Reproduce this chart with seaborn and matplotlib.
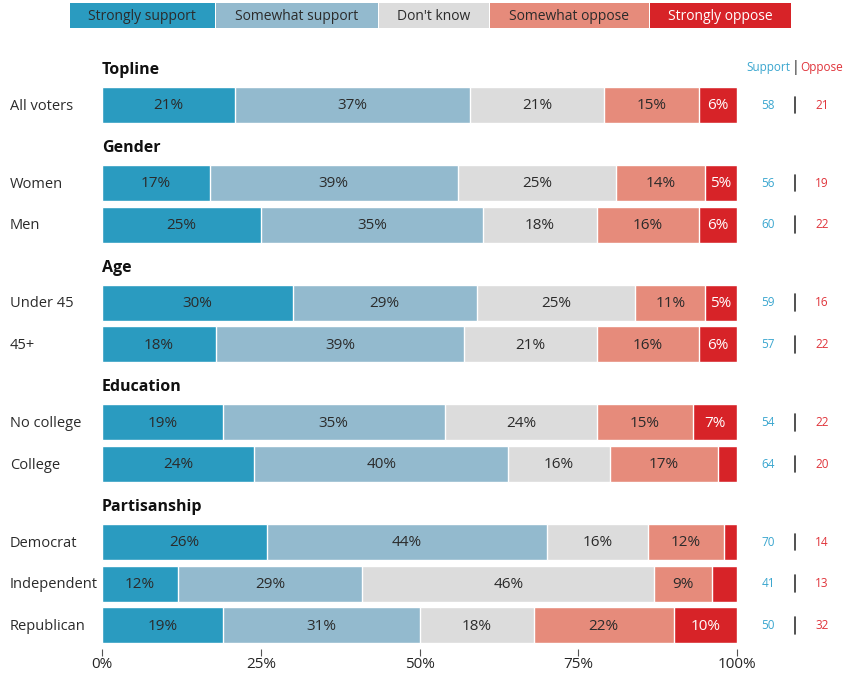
import numpy as np
import pandas as pd
import seaborn as sns
import matplotlib.pyplot as plt
from matplotlib.patches import Rectangle
from matplotlib.transforms import blended_transform_factory

# data
groups = ["Topline", "Gender", "Age", "Education", "Partisanship"]
group_rows = [["All voters"], ["Women", "Men"], ["Under 45", "45+"],
              ["No college", "College"], ["Democrat", "Independent", "Republican"]]
responses = ["Strongly support", "Somewhat support", "Don't know",
             "Somewhat oppose", "Strongly oppose"]
strongly_support = [21, 17, 25, 30, 18, 19, 24, 26, 12, 19]
somewhat_support = [37, 39, 35, 29, 39, 35, 40, 44, 29, 31]
dont_know = [21, 25, 18, 25, 21, 24, 16, 16, 46, 18]
somewhat_oppose = [15, 14, 16, 11, 16, 15, 17, 12, 9, 22]
strongly_oppose = [6, 5, 6, 5, 6, 7, 3, 2, 4, 10]
support_total = [58, 56, 60, 59, 57, 54, 64, 70, 41, 50]
oppose_total = [21, 19, 22, 16, 22, 22, 20, 14, 13, 32]
x_ticks = [0, 25, 50, 75, 100]

colors = ["#2a9bc0", "#93bace", "#dcdcdc", "#e68b7b", "#d72328"]
support_color = "#3aa6cf"
oppose_color = "#e0343b"
text_dark = "#2b2b2b"

sns.set_theme(style="white")
plt.rcParams['font.family'] = ['Open Sans', 'DejaVu Sans']

# vertical layout: header, then rows
header_pos, row_pos, row_labels = [], [], []
y = 0.0
for g, rows in zip(groups, group_rows):
    header_pos.append(y)
    y += 0.84
    for i, r in enumerate(rows):
        row_pos.append(round(y, 3))
        row_labels.append(r)
        y += 1.0
    y += 0.03

values = np.array([strongly_support, somewhat_support, dont_know,
                   somewhat_oppose, strongly_oppose])
cum = values.cumsum(axis=0)

df = pd.DataFrame({"label": row_labels, "pos": row_pos})

fig = plt.figure(figsize=(8.46, 6.73), dpi=100)
ax = fig.add_axes([102 / 846, 28 / 673, 635 / 846, 590 / 673])

# stacked bars: draw cumulative totals from the last category backwards
for k in range(len(responses) - 1, -1, -1):
    sns.barplot(x=cum[k], y=df["pos"], orient="y", native_scale=True,
                color=colors[k], saturation=1, width=0.86, errorbar=None,
                edgecolor="white", linewidth=1, ax=ax)

# percentage labels
for k in range(len(responses)):
    for i, p in enumerate(row_pos):
        v = values[k][i]
        if v >= 5:
            xc = cum[k][i] - v / 2
            ax.text(xc, p + 0.02, f"{v}%", ha="center", va="center", fontsize=11,
                    color="white" if k == 4 else text_dark)

ax.set_xlim(0, 100)
ax.set_ylim(13.79, -0.36)
ax.set_ylabel("")
ax.set_xlabel("")
ax.set_yticks([])
ax.set_xticks(x_ticks)
ax.set_xticklabels([f"{t}%" for t in x_ticks], fontsize=10, color=text_dark)
ax.tick_params(axis="x", bottom=True, length=5, width=0.8, color="#555555",
               direction="out", pad=1)
for s in ax.spines.values():
    s.set_visible(False)
ax.spines["bottom"].set_position(("outward", 3))

# group headers and row labels
trans = blended_transform_factory(fig.transFigure, ax.transData)
for g, hp in zip(groups, header_pos):
    ax.text(0, hp, g, ha="left", va="center", fontsize=11.5,
            fontweight="bold", color="#111111")
for lab, p in zip(row_labels, row_pos):
    ax.text(10 / 846, p + 0.03, lab, transform=trans, ha="left", va="center",
            fontsize=10.5, color=text_dark)

# support / oppose columns
ax.text(768 / 846, header_pos[0] - 0.07, "Support", transform=trans,
        ha="center", va="center", fontsize=8.5, color=support_color)
ax.text(795 / 846, header_pos[0] - 0.07, "|", transform=trans,
        ha="center", va="center", fontsize=10, color="#222222")
ax.text(822 / 846, header_pos[0] - 0.07, "Oppose", transform=trans,
        ha="center", va="center", fontsize=8.5, color=oppose_color)
for p, s_, o_ in zip(row_pos, support_total, oppose_total):
    ax.text(768 / 846, p, str(s_), transform=trans, ha="center", va="center",
            fontsize=8.5, color=support_color)
    ax.text(822 / 846, p, str(o_), transform=trans, ha="center", va="center",
            fontsize=8.5, color=oppose_color)
    ax.plot([795 / 846, 795 / 846], [p - 0.2, p + 0.2], transform=trans,
            color="#333333", lw=1.2, clip_on=False)

# legend boxes at the top
box_edges = [70, 216, 379, 490, 650, 792]
for k, r in enumerate(responses):
    x0 = box_edges[k] / 846
    w = (box_edges[k + 1] - box_edges[k] - 1.5) / 846
    fig.patches.append(Rectangle((x0, 1 - 28 / 673), w, 25 / 673,
                                 transform=fig.transFigure,
                                 facecolor=colors[k], edgecolor="none"))
    fig.text(x0 + w / 2, 1 - 16.5 / 673, r, ha="center", va="center",
             fontsize=10, color="white" if k == 4 else text_dark)

fig.savefig("out.png", dpi=100)
